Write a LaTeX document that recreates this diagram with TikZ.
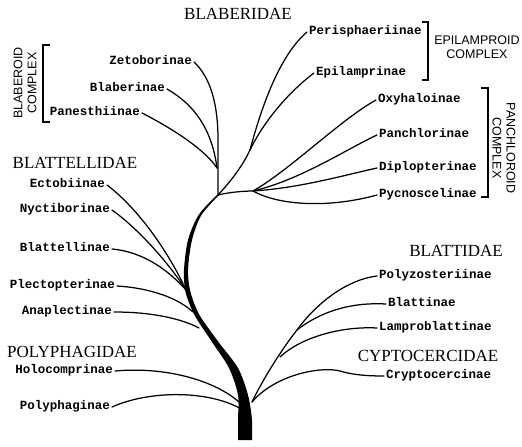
\documentclass[tikz,border=0pt]{standalone}
\usepackage{fontspec}
\setmainfont{Liberation Serif}
\newfontfamily\labfont{Liberation Mono}
\newfontfamily\cxfont{Liberation Sans}
\begin{document}
\begin{tikzpicture}[x=1pt,y=-1pt,
  taxon/.style={font=\labfont\bfseries\fontsize{12.5}{13}\selectfont, text height=5.5pt, text depth=0pt, inner xsep=2pt, inner ysep=0pt},
  lefttax/.style={taxon, anchor=east},
  righttax/.style={taxon, anchor=west},
  family/.style={font=\fontsize{17}{18}\selectfont, inner sep=0pt},
  cplx/.style={font=\cxfont\fontsize{12.5}{14}\selectfont, align=center, inner sep=0pt},
  branch/.style={line width=1.25pt, line cap=round},
  brack/.style={line width=1.6pt}]
\useasboundingbox (0,0) rectangle (522,447);

% family headings
\node[family] (hBlab) at (238,14) {BLABERIDAE};
\node[family] (hBtl) at (75,163) {BLATTELLIDAE};
\node[family] (hPoly) at (72,352) {POLYPHAGIDAE};
\node[family] (hBlat) at (456,251) {BLATTIDAE};
\node[family] (hCry) at (428,356) {CYPTOCERCIDAE};

% complexes
\node[cplx, rotate=90] (cBlab) at (25,83) {BLABEROID\\COMPLEX};
\node[cplx] (cEpi) at (477,47) {EPILAMPROID\\COMPLEX};
\node[cplx, rotate=-90] (cPan) at (504,148) {PANCHLOROID\\COMPLEX};
\draw[brack] (50,45) -- (43,45) -- (43,122) -- (50,122);
\draw[brack] (422,22) -- (428,22) -- (428,80) -- (422,80);
\draw[brack] (481,88) -- (488,88) -- (488,197) -- (481,197);

% left taxa
\node[lefttax] (zet) at (194,62) {Zetoborinae};
\node[lefttax] (bla) at (167,89) {Blaberinae};
\node[lefttax] (pan) at (142,113) {Panesthiinae};
\node[lefttax] (ect) at (107,185) {Ectobiinae};
\node[lefttax] (nyc) at (112,210) {Nyctiborinae};
\node[lefttax] (blt) at (112,249) {Blattellinae};
\node[lefttax] (ple) at (117,286) {Plectopterinae};
\node[lefttax] (ana) at (114,312) {Anaplectinae};
\node[lefttax] (hol) at (115,371) {Holocomprinae};
\node[lefttax] (pol) at (112,407) {Polyphaginae};

% right taxa
\node[righttax] (per) at (307,32) {Perisphaeriinae};
\node[righttax] (epi) at (314,73) {Epilamprinae};
\node[righttax] (oxy) at (376,100) {Oxyhaloinae};
\node[righttax] (pch) at (377,135) {Panchlorinae};
\node[righttax] (dip) at (377,168) {Diplopterinae};
\node[righttax] (pyc) at (377,195) {Pycnoscelinae};
\node[righttax] (plz) at (377,276) {Polyzosteriinae};
\node[righttax] (btn) at (386,304) {Blattinae};
\node[righttax] (lam) at (377,328) {Lamproblattinae};
\node[righttax] (cry) at (384,376) {Cryptocercinae};

% junctions
\coordinate (J1) at (218,195);
\coordinate (Jb) at (217,168);
\coordinate (Je) at (250,150);
\coordinate (Jp) at (253,191);
\coordinate (Jt) at (186,290);
\coordinate (Jpl) at (193,312);
\coordinate (Jan) at (199,328);
\coordinate (Jh) at (241,404);
\coordinate (Jpo) at (243,410);
\coordinate (Jr) at (252,402);
\coordinate (Jbl) at (297,330);
\coordinate (Jla) at (280,357);

% trunk
\fill plot[smooth] coordinates {(216.8,195) (198.6,215) (188,240) (184,270) (185.5,292) (194.5,315) (212,342) (229,368) (238,395) (238,420) (238,440)}
  -- plot[smooth] coordinates {(252,440) (252,420) (248,395) (238,368) (218.5,342) (199.5,315) (190.5,292) (188,270) (192,240) (201.4,215) (219.2,195)} -- cycle;

% Blaberoid
\draw[branch] (zet.east) .. controls (211,78) and (218,105) .. (218,140) -- (J1);
\draw[branch] (bla.east) .. controls (195,105) and (212,130) .. (Jb);
\draw[branch] (pan.east) .. controls (175,130) and (205,150) .. (Jb);
% Epilamproid
\draw[branch] (J1) .. controls (232,180) and (243,165) .. (Je);
\draw[branch] (Je) .. controls (262,105) and (280,55) .. (per.west);
\draw[branch] (Je) .. controls (262,125) and (285,95) .. (epi.west);
% Panchloroid
\draw[branch] (J1) .. controls (230,192) and (245,191) .. (Jp);
\draw[branch] (Jp) .. controls (290,170) and (340,120) .. (oxy.west);
\draw[branch] (Jp) .. controls (300,180) and (345,150) .. (pch.west);
\draw[branch] (Jp) .. controls (300,188) and (345,175) .. (dip.west);
\draw[branch] (Jp) .. controls (280,206) and (330,208) .. (pyc.west);
% Blattellidae
\draw[branch] (ect.east) .. controls (140,210) and (170,255) .. (Jt);
\draw[branch] (nyc.east) .. controls (140,230) and (170,265) .. (Jt);
\draw[branch] (blt.east) .. controls (145,252) and (170,272) .. (Jt);
\draw[branch] (ple.east) .. controls (150,288) and (178,298) .. (Jpl);
\draw[branch] (ana.east) .. controls (150,312) and (180,318) .. (Jan);
% Polyphagidae
\draw[branch] (hol.east) .. controls (170,366) and (220,383) .. (Jh);
\draw[branch] (pol.east) .. controls (150,390) and (210,390) .. (Jpo);
% Blattidae
\draw[branch] (Jr) .. controls (265,375) and (285,345) .. (Jbl);
\draw[branch] (Jbl) .. controls (315,305) and (345,280) .. (plz.west);
\draw[branch] (Jbl) .. controls (320,312) and (350,302) .. (btn.west);
\draw[branch] (Jla) .. controls (300,338) and (340,326) .. (lam.west);
% Cryptocercidae
\draw[branch] (Jr) .. controls (275,375) and (320,366) .. (340,371) .. controls (350,374) and (362,376) .. (cry.west);
\end{tikzpicture}
\end{document}
